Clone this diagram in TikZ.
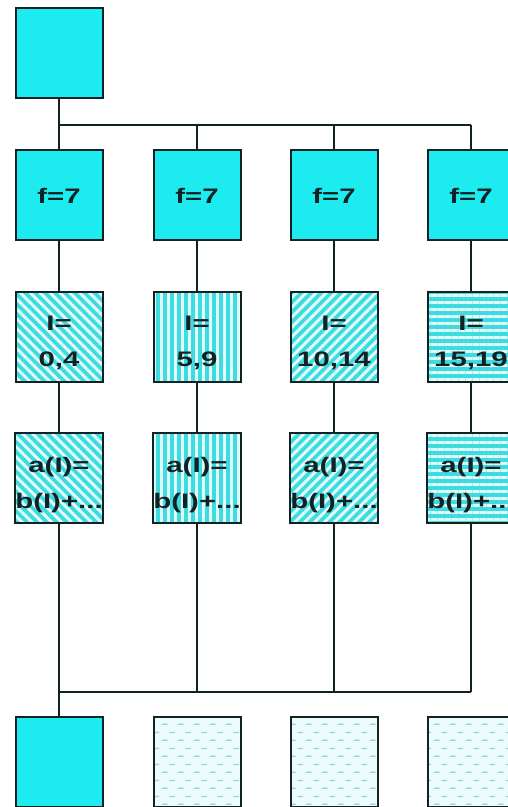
\documentclass[tikz,border=0pt]{standalone}
\usepackage{fontspec}
\newfontfamily\labfont[FakeStretch=1.4]{Liberation Sans Bold}
\usetikzlibrary{patterns.meta}
\definecolor{boxcyan}{RGB}{28,236,240}
\definecolor{stripecyan}{RGB}{60,220,224}
\definecolor{palecyan}{RGB}{236,252,252}
\definecolor{dashcol}{RGB}{150,212,218}
\definecolor{inkcol}{RGB}{18,34,36}
\tikzdeclarepattern{
  name=softdash, type=uncolored,
  bottom left={(0pt,0pt)}, top right={(16pt,16pt)},
  tile size={(16pt,16pt)},
  code={
    \pgfsetlinewidth{1.3pt}
    \pgfpathmoveto{\pgfpoint{2pt}{4pt}}\pgfpathlineto{\pgfpoint{8pt}{4pt}}
    \pgfpathmoveto{\pgfpoint{10pt}{12pt}}\pgfpathlineto{\pgfpoint{16pt}{12pt}}
    \pgfusepath{stroke}
  }
}
\newcommand{\twolines}[2]{\raisebox{-10pt}[0pt][0pt]{\begin{tabular}{@{}c@{}}#1\\#2\end{tabular}}}
\newcommand{\oneline}[1]{\raisebox{-9pt}[0pt][0pt]{#1}}
\tikzset{
  box/.style={draw=inkcol, line width=2pt, minimum width=87pt, minimum height=90pt,
    inner sep=0pt, align=center, text=inkcol,
    font=\labfont\fontsize{21}{36}\selectfont},
  solidbox/.style={box, fill=boxcyan},
  stripes/.style={box,
    preaction={fill=stripecyan},
    preaction={pattern={Lines[angle=#1,distance=7pt,line width=3pt]}, pattern color=white!85!stripecyan}},
  emptybox/.style={box, preaction={fill=palecyan}, preaction={pattern=softdash, pattern color=dashcol}},
  wire/.style={draw=inkcol, line width=1.7pt}
}
\begin{document}
\begin{tikzpicture}[x=1pt,y=-1pt]
\useasboundingbox (0,0) rectangle (508,807);
\clip (0,0) rectangle (508,807);
\fill[white] (0,0) rectangle (508,807);
% coordinates on the bus lines
\coordinate (t1) at (59,125);
\coordinate (t2) at (197,125);
\coordinate (t3) at (334,125);
\coordinate (t4) at (471,125);
\coordinate (u1) at (59,692);
\coordinate (u2) at (197,692);
\coordinate (u3) at (334,692);
\coordinate (u4) at (471,692);
% boxes
\node[solidbox] (top) at (59,53) {};
\node[solidbox] (f1) at (59,194.5) {\oneline{f=7}};
\node[solidbox] (f2) at (197,194.5) {\oneline{f=7}};
\node[solidbox] (f3) at (334,194.5) {\oneline{f=7}};
\node[solidbox] (f4) at (471,194.5) {\oneline{f=7}};
\node[stripes=-45] (i1) at (59,336.5) {\twolines{I=}{0,4}};
\node[stripes=90] (i2) at (197,336.5) {\twolines{I=}{5,9}};
\node[stripes=45] (i3) at (334,336.5) {\twolines{I=}{10,14}};
\node[stripes=0] (i4) at (471,336.5) {\twolines{I=}{15,19}};
\node[stripes=-45] (a1) at (59,478) {\twolines{a(I)=}{b(I)+...}};
\node[stripes=90] (a2) at (197,478) {\twolines{a(I)=}{b(I)+...}};
\node[stripes=45] (a3) at (334,478) {\twolines{a(I)=}{b(I)+...}};
\node[stripes=0] (a4) at (471,478) {\twolines{a(I)=}{b(I)+...}};
\node[solidbox] (b1) at (59,762) {};
\node[emptybox] (b2) at (197,762) {};
\node[emptybox] (b3) at (334,762) {};
\node[emptybox] (b4) at (471,762) {};
% connectors
\draw[wire] (top.south) -- (t1);
\draw[wire] (t1) -- (t4);
\foreach \k in {1,2,3,4}{
  \draw[wire] (t\k) -- (f\k.north);
  \draw[wire] (f\k.south) -- (i\k.north);
  \draw[wire] (i\k.south) -- (a\k.north);
  \draw[wire] (a\k.south) -- (u\k);
}
\draw[wire] (u1) -- (u4);
\draw[wire] (u1) -- (b1.north);
\end{tikzpicture}
\end{document}
